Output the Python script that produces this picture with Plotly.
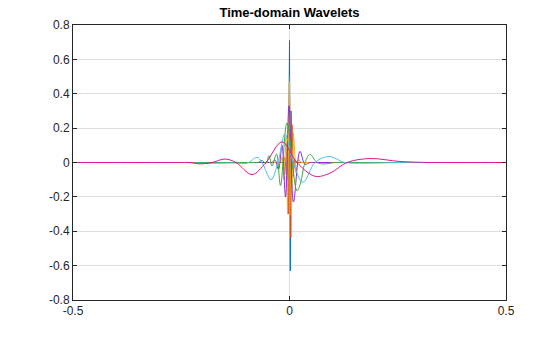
import plotly.graph_objects as go

# Real parts of seven time-domain wavelets (finest scale first), sampled as (t, amplitude)
t_blue = [-0.5, -0.0081, -0.0058, -0.0035, -0.0012, 0.0, 0.0018, 0.0035, 0.0058, 0.0081, 0.0104, 0.5]
v_blue = [0.0, 0.0, 0.02, -0.1, 0.25, 0.71, -0.63, 0.3, -0.08, 0.01, 0.0, 0.0]

t_orange = [-0.5, -0.015, -0.0104, -0.0074, -0.0046, -0.0028, 0.0, 0.003, 0.0058, 0.0088, 0.0115, 0.015, 0.5]
v_orange = [0.0, 0.0, 0.03, -0.07, 0.15, -0.3, 0.5, -0.44, 0.22, -0.08, 0.02, 0.0, 0.0]

t_yellow = [-0.5, -0.0219, -0.0173, -0.0127, -0.0081, -0.0046, -0.0005, 0.0042, 0.0092, 0.015, 0.0208, 0.0266, 0.5]
v_yellow = [0.0, 0.0, 0.03, -0.1, 0.15, -0.3, 0.47, -0.31, 0.17, -0.06, 0.02, 0.0, 0.0]

t_purple = [-0.5, -0.05, -0.0404, -0.0335, -0.0254, -0.0173, -0.0092, -0.0012, 0.0092, 0.0242, 0.0358, 0.0473, 0.057, 0.5]
v_purple = [0.0, 0.0, 0.0, 0.015, -0.04, 0.1, -0.2, 0.33, -0.23, 0.065, -0.01, 0.0, 0.0, 0.0]

t_green = [-0.5, -0.085, -0.0727, -0.0635, -0.0543, -0.0473, -0.0404, -0.0300, -0.0208, -0.0058, 0.0173, 0.0254, 0.0358, 0.0473, 0.0635, 0.0797, 0.1051, 0.115, 0.5]
v_green = [0.0, 0.0, 0.0, 0.012, -0.005, 0.04, -0.02, 0.05, -0.135, 0.23, -0.165, -0.12, 0.0, 0.047, 0.0, -0.008, 0.0, 0.0, 0.0]

t_cyan = [-0.5, -0.26, -0.2413, -0.194, -0.1259, -0.0982, -0.0751, -0.0635, -0.0427, -0.0266, -0.0104, 0.0081, 0.0312, 0.0589, 0.0912, 0.1282, 0.1744, 0.2552, 0.27, 0.5]
v_cyan = [0.0, 0.0, 0.0, -0.005, -0.003, -0.004, 0.03, 0.0, -0.1, 0.0, 0.167, 0.0, -0.115, 0.0, 0.035, 0.0, -0.004, 0.0, 0.0, 0.0]

t_magenta = [-0.5, -0.25, -0.2298, -0.2067, -0.179, -0.149, -0.1236, -0.0866, -0.0543, -0.0173, 0.0173, 0.0589, 0.0935, 0.1328, 0.1859, 0.2552, 0.3245, 0.34, 0.5]
v_magenta = [0.0, 0.0, 0.0, -0.008, 0.0, 0.02, 0.0, -0.07, 0.0, 0.12, 0.0, -0.08, -0.062, 0.0, 0.023, 0.006, 0.0, 0.0, 0.0]

series = [
    (t_blue, v_blue, "#0072BD", "linear"),
    (t_orange, v_orange, "#D95319", "linear"),
    (t_yellow, v_yellow, "#EDB120", "linear"),
    (t_purple, v_purple, "#8E2BD6", "spline"),
    (t_green, v_green, "#3FAA3F", "spline"),
    (t_cyan, v_cyan, "#4DBEEE", "spline"),
    (t_magenta, v_magenta, "#E0168E", "spline"),
]

x_ticks = [-0.5, 0, 0.5]
x_labels = ["-0.5", "0", "0.5"]
y_ticks = [-0.8, -0.6, -0.4, -0.2, 0, 0.2, 0.4, 0.6, 0.8]
y_labels = ["-0.8", "-0.6", "-0.4", "-0.2", "0", "0.2", "0.4", "0.6", "0.8"]

fig = go.Figure()
for t, v, color, shape in series:
    fig.add_trace(go.Scatter(
        x=t, y=v, mode="lines",
        line=dict(color=color, width=1, shape=shape),
        showlegend=False, hoverinfo="skip",
    ))

axis_common = dict(
    showline=True, linecolor="#262626", linewidth=1, mirror="ticks",
    ticks="inside", ticklen=4, tickcolor="#262626", tickwidth=1,
    showgrid=True, gridcolor="#DEDEDE", gridwidth=1, zeroline=False,
    tickfont=dict(family="Liberation Sans, Arial, sans-serif", size=12, color="#262626"),
)

fig.update_xaxes(range=[-0.5, 0.5], tickvals=x_ticks, ticktext=x_labels, **axis_common)
fig.update_yaxes(range=[-0.8, 0.8], tickvals=y_ticks, ticktext=y_labels, **axis_common)

fig.update_layout(
    width=560, height=337,
    margin=dict(l=73, r=54, t=25, b=37),
    paper_bgcolor="white", plot_bgcolor="white",
    title=dict(
        text="<b>Time-domain Wavelets</b>",
        font=dict(family="Liberation Sans, Arial, sans-serif", size=13, color="#000000"),
        x=0.5, xref="paper", xanchor="center",
        y=1 - 12 / 337, yref="container", yanchor="middle",
    ),
)

fig.write_html("out.html")
